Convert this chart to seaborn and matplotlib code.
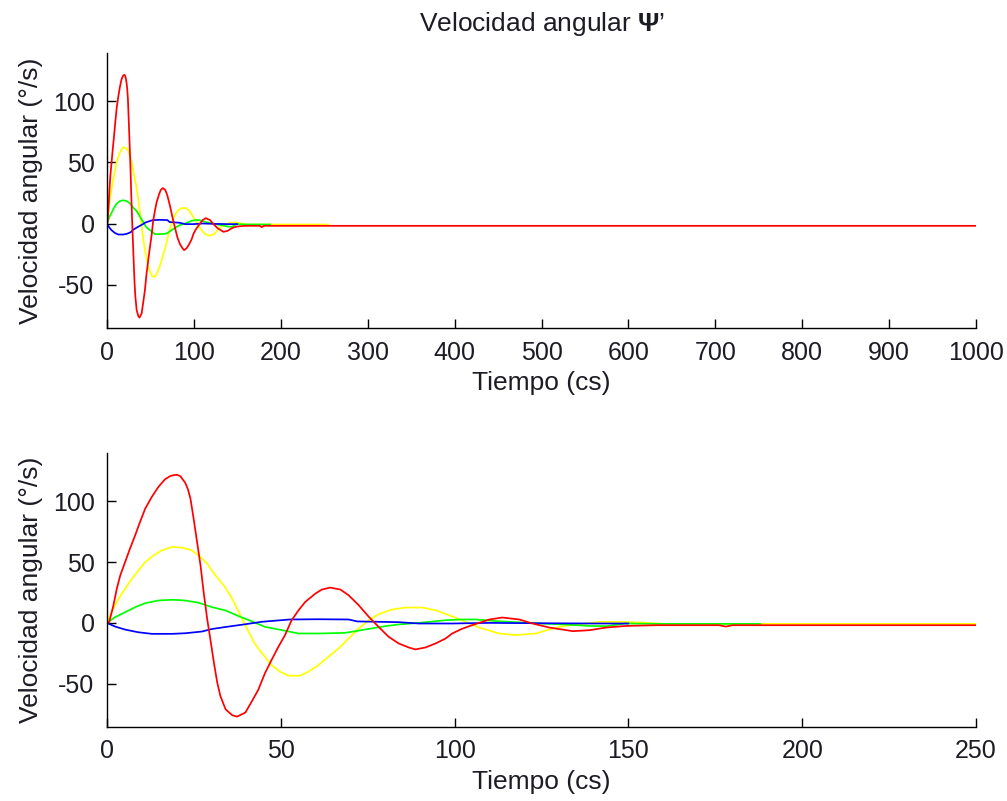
import matplotlib
matplotlib.use("Agg")
import matplotlib.pyplot as plt
import numpy as np
import pandas as pd
import seaborn as sns

# Angular velocity responses (deg/s) against time (cs)
t_rojo = [0, 0.6, 1.8, 2.8, 3.8, 5.2, 6.6, 8.1, 9.5, 11, 12.9, 14.8, 16.7, 18.2, 19.2, 20.2,
          21.1, 22.5, 23.3, 24, 24.9, 25.9, 26.9, 27.8, 28.8, 29.7, 30.7, 31.7, 32.6, 34.1,
          36, 37.4, 39.8, 41.6, 43.5, 45.4, 47.3, 49.3, 51.2, 53.1, 55.1, 57, 59.9, 61.8,
          64.2, 67.1, 69.5, 72.4, 75.3, 78.1, 81, 83.9, 86.8, 88.7, 91.6, 94.5, 97.4, 99.3,
          102, 105, 110, 113.7, 118.6, 122.4, 127.2, 134, 138.8, 143.6, 149.3, 158, 176,
          178, 180, 1000]
v_rojo = [0, 0.5, 14, 28, 39, 50, 61, 72, 83, 94, 103.6, 111.8, 118, 120.6, 121.4, 121.6,
          120.5, 115, 109.5, 102, 85.7, 66.5, 47, 25, 3.3, -13, -32, -49, -60, -71,
          -75.8, -77, -73.6, -64.7, -55, -41.5, -30.6, -19.6, -10, 2.2, 10.4, 17.2, 24, 27.4,
          29, 27.4, 22.7, 14.5, 5, -3.2, -11.4, -16.9, -20.2, -21.8, -20.2, -16.9, -12.8, -8.7,
          -5, -1.9, 2.8, 4.4, 2.8, -0.5, -3.8, -6.8, -6, -3.8, -2.5, -1.9, -1.9,
          -3, -1.9, -1.9]

t_amarillo = [0, 1.3, 3.3, 5.2, 7.1, 9, 11, 13.4, 15.8, 18.7, 21.6, 24.4, 26.9, 28.8, 31.2,
              33.6, 36, 37.9, 39.8, 42.3, 43.5, 45.4, 47.3, 49.8, 52.2, 55.5, 57.9, 60.8,
              63.7, 66.6, 69.5, 72.4, 75.3, 78.1, 82, 85.8, 90.7, 94.5, 98.4, 102, 107, 112.8,
              117.6, 123.4, 127.2, 131, 135.9, 141.6, 148.4, 153.2, 160, 255]
v_amarillo = [0, 8.8, 19.8, 28, 36, 43, 50, 55.5, 59.6, 62.4, 61.8, 59.6, 54, 48.6, 39,
              30.8, 19.8, 8.8, -2.2, -16, -21, -27.8, -34.7, -40.1, -43.4, -43.4, -40.1, -34.7,
              -27.8, -21, -12.8, -4.6, 2.2, 7.1, 11, 12.6, 12.6, 10.4, 6.3, 2.2, -3.8, -8.7,
              -10, -8.7, -5.4, -2.7, -1.3, 0.8, 0.8, 0.3, -0.8, -0.8]

t_verde = [0, 2.3, 5.2, 8.1, 11, 14.8, 18.7, 22.5, 26.4, 30.2, 34.1, 37.9, 41.8, 45.4, 49.3,
           55.1, 60.8, 68.5, 74.3, 80.1, 83.9, 89.7, 97.4, 102, 106, 112, 118, 124.3, 131,
           138.8, 143.6, 149, 160, 188]
v_verde = [0, 4.7, 8.8, 12.9, 16.2, 18.4, 19, 18.4, 16.5, 12.9, 10.2, 5.5, 1.1, -3.2, -5.4,
           -8.7, -8.7, -8.2, -5.4, -2.7, -1.3, 0, 2.2, 2.8, 2.8, 1.5, 0.5, -0.5, -1.2,
           -2.5, -2.7, -0.5, -0.8, -0.8]

t_azul = [0, 2.3, 5.2, 9, 12.9, 18.7, 22.5, 27.3, 30.2, 35, 39.8, 44.5, 52.6, 60.8, 69.5,
          72, 83.9, 89.7, 99.3, 110, 125, 140, 150]
v_azul = [0, -3, -5.5, -7.7, -9, -9, -8.5, -7.1, -5, -3, -1.1, 0.9, 2.8, 3, 2.8,
          1.2, 0.6, -0.5, -0.5, 0, -0.3, -0.5, -0.5]

series = {
    "amarillo": (t_amarillo, v_amarillo),
    "verde": (t_verde, v_verde),
    "azul": (t_azul, v_azul),
    "rojo": (t_rojo, v_rojo),
}
colores = {"amarillo": "#ffff00", "verde": "#00ff00", "azul": "#0000ff", "rojo": "#ff0000"}
orden = ["amarillo", "verde", "azul", "rojo"]

df = pd.concat(
    [pd.DataFrame({"t": t, "v": v, "serie": k}) for k, (t, v) in series.items()],
    ignore_index=True,
)

sns.set_style("white", {"xtick.bottom": True, "ytick.left": True})
plt.rcParams["font.family"] = ["Liberation Sans", "DejaVu Sans"]
plt.rcParams["mathtext.fontset"] = "custom"
plt.rcParams["mathtext.rm"] = "Liberation Sans"
plt.rcParams["mathtext.bf"] = "Liberation Sans:bold"
plt.rcParams["axes.unicode_minus"] = False

texto = "#1c1c24"
fig = plt.figure(figsize=(10.07, 8.01), dpi=100)
fig.patch.set_facecolor("white")
ax1 = fig.add_axes([0.1063, 0.5905, 0.863, 0.3433])
ax2 = fig.add_axes([0.1063, 0.0924, 0.863, 0.342])

for ax, xmax, paso in [(ax1, 1000, 100), (ax2, 250, 50)]:
    sns.lineplot(data=df, x="t", y="v", hue="serie", hue_order=orden, palette=colores,
                 estimator=None, sort=False, linewidth=1.25, legend=False, ax=ax)
    ax.set_xlim(0, xmax)
    ax.set_ylim(-85.5, 139.5)
    ax.set_xticks(np.arange(0, xmax + 1, paso))
    ax.set_yticks([-50, 0, 50, 100])
    ax.set_xlabel("Tiempo (cs)", fontsize=19, color=texto, labelpad=5)
    ax.set_ylabel("Velocidad angular (°/s)", fontsize=19, color=texto, labelpad=7)
    ax.tick_params(direction="in", length=6.5, width=1.0, labelsize=18,
                   colors="black", labelcolor=texto, pad=9,
                   left=True, bottom=True)
    sns.despine(ax=ax)
    for s in ("left", "bottom"):
        ax.spines[s].set_color("black")
        ax.spines[s].set_linewidth(1.0)
    ax.set_facecolor("white")

ax1.set_title(r"Velocidad angular $\mathbf{\Psi}$’", fontsize=19, color=texto, pad=16)

fig.savefig("out.png", dpi=100, facecolor="white")
